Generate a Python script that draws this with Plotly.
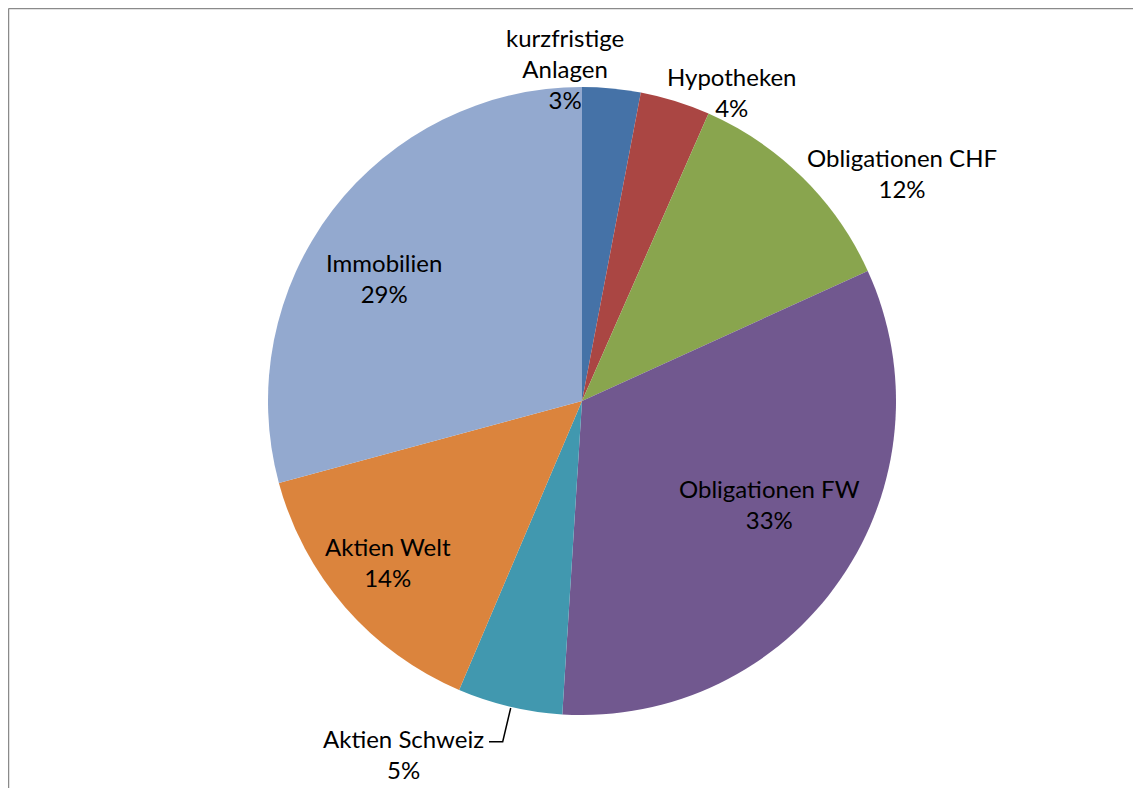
import plotly.graph_objects as go

# The page body has an 8px default margin; work in window pixels and convert.
WIN_W, WIN_H, OFF = 1141, 788, 8
W, H = WIN_W - OFF, WIN_H - OFF

categories = ["kurzfristige Anlagen", "Hypotheken", "Obligationen CHF", "Obligationen FW",
              "Aktien Schweiz", "Aktien Welt", "Immobilien"]
display_names = ["kurzfristige<br>Anlagen", "Hypotheken", "Obligationen CHF", "Obligationen FW",
                 "Aktien Schweiz", "Aktien Welt", "Immobilien"]
values = [3.0, 3.6, 11.6, 32.8, 5.4, 14.4, 29.2]
colors = ["#4572A7", "#AA4643", "#89A54E", "#71588F", "#4198AF", "#DB843D", "#93A9CF"]

# label centers in window pixels (layout)
label_px = [(565, 69), (732, 92), (901.5, 173), (769.5, 504.5), (403, 754), (388, 562), (383.5, 278)]

cx, cy, R = 582, 401, 314


def px(x):
    return (x - OFF) / W


def py(y):
    return 1 - (y - OFF) / H


fig = go.Figure(go.Pie(
    labels=categories, values=values, sort=False, direction="clockwise", rotation=0,
    marker=dict(colors=colors, line=dict(width=0)),
    textinfo="none", hoverinfo="label+percent", showlegend=False,
    domain=dict(x=[px(cx - R), px(cx + R)], y=[py(cy + R), py(cy - R)]),
))

total = sum(values)
annotations = []
for name, v, (lx, ly) in zip(display_names, values, label_px):
    pct = round(v / total * 100)
    annotations.append(dict(
        x=px(lx), y=py(ly), xref="paper", yref="paper",
        text=f"{name}<br>{pct}%", showarrow=False, xanchor="center", yanchor="middle",
        align="center", font=dict(family="Lato", size=24, color="#000000"),
    ))


def P(x, y):
    return f"{px(x)} {py(y)}"


shapes = [
    dict(type="line", xref="paper", yref="paper", x0=px(8.5), y0=py(8.5), x1=1, y1=py(8.5),
         line=dict(color="#8a8a8a", width=1.5)),
    dict(type="line", xref="paper", yref="paper", x0=px(8.5), y0=py(8.5), x1=px(8.5), y1=0,
         line=dict(color="#8a8a8a", width=1.5)),
    dict(type="path", xref="paper", yref="paper",
         path=f"M {P(510.7, 708)} L {P(502.7, 741.7)} L {P(489, 741.7)}",
         line=dict(color="#000000", width=1.5)),
]

fig.update_layout(
    width=W, height=H, margin=dict(l=0, r=0, t=0, b=0),
    paper_bgcolor="white", plot_bgcolor="white",
    annotations=annotations, shapes=shapes,
)

fig.write_html("out.html")
